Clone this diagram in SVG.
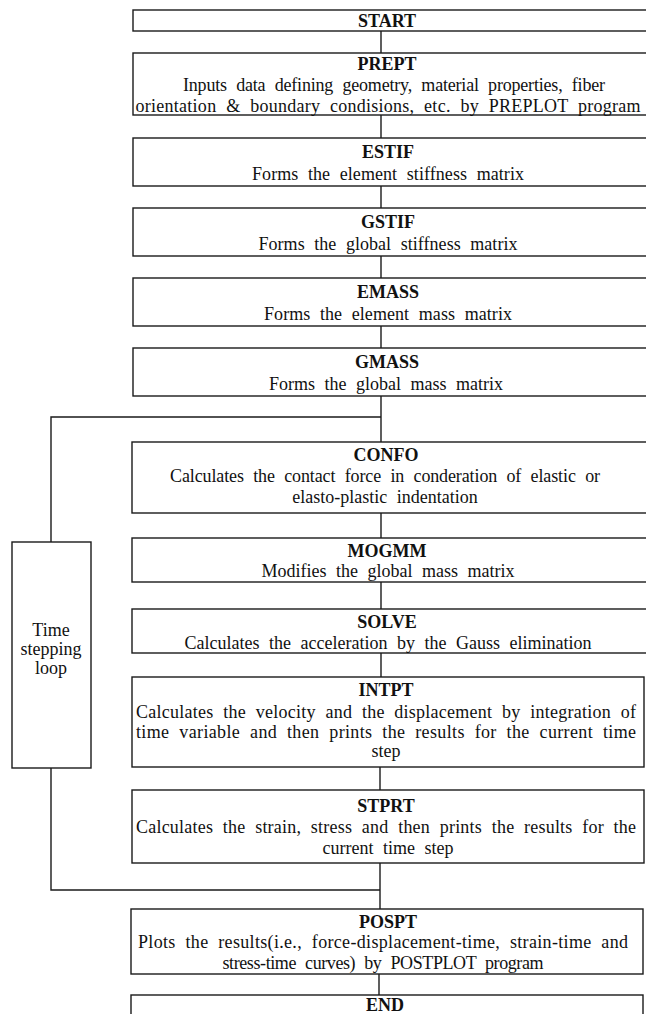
<svg xmlns="http://www.w3.org/2000/svg" width="646" height="1014" viewBox="0 0 646 1014">
<style>
.box{fill:#fff;stroke:#1a1a1a;stroke-width:1.4}
.ln{fill:none;stroke:#1a1a1a;stroke-width:1.4}
.t{font-family:"Liberation Serif","Times New Roman",serif;font-size:18px;font-weight:bold;fill:#111;text-anchor:middle}
.d{font-family:"Liberation Serif","Times New Roman",serif;font-size:18px;fill:#111;text-anchor:middle;word-spacing:5px}
</style>
<rect width="646" height="1014" fill="#fff"/>
<g id="connectors">
<line class="ln" x1="381" y1="31" x2="381" y2="53"/>
<line class="ln" x1="381" y1="115" x2="381" y2="138"/>
<line class="ln" x1="381" y1="186" x2="381" y2="208"/>
<line class="ln" x1="381" y1="256" x2="381" y2="278"/>
<line class="ln" x1="381" y1="326" x2="381" y2="348"/>
<line class="ln" x1="381" y1="396" x2="381" y2="442"/>
<line class="ln" x1="381" y1="513" x2="381" y2="538"/>
<line class="ln" x1="381" y1="582" x2="381" y2="609"/>
<line class="ln" x1="381" y1="653" x2="381" y2="677"/>
<line class="ln" x1="380" y1="767" x2="380" y2="790"/>
<line class="ln" x1="380" y1="863" x2="380" y2="909"/>
<line class="ln" x1="379" y1="974" x2="379" y2="995"/>
<polyline class="ln" points="381,417 51,417 51,542"/>
<polyline class="ln" points="51,768 51,890 380,890"/>
</g>
<g id="start">
<rect class="box" x="133" y="10" width="520" height="21"/>
<text class="t" x="387" y="27">START</text>
</g>
<g id="prept">
<rect class="box" x="133" y="53" width="520" height="62"/>
<text class="t" x="387" y="70">PREPT</text>
<text class="d" x="394" y="91" textLength="422" lengthAdjust="spacing">Inputs data defining geometry, material properties, fiber</text>
<text class="d" x="388" y="112" textLength="505" lengthAdjust="spacing">orientation &amp; boundary condisions, etc. by PREPLOT program</text>
</g>
<g id="estif">
<rect class="box" x="133" y="138" width="520" height="48"/>
<text class="t" x="388" y="158">ESTIF</text>
<text class="d" x="388" y="180" textLength="272" lengthAdjust="spacing">Forms the element stiffness matrix</text>
</g>
<g id="gstif">
<rect class="box" x="133" y="208" width="520" height="48"/>
<text class="t" x="388" y="228">GSTIF</text>
<text class="d" x="388" y="250" textLength="259" lengthAdjust="spacing">Forms the global stiffness matrix</text>
</g>
<g id="emass">
<rect class="box" x="133" y="278" width="520" height="48"/>
<text class="t" x="388" y="298">EMASS</text>
<text class="d" x="388" y="320" textLength="248" lengthAdjust="spacing">Forms the element mass matrix</text>
</g>
<g id="gmass">
<rect class="box" x="133" y="348" width="520" height="48"/>
<text class="t" x="387" y="368">GMASS</text>
<text class="d" x="386" y="390">Forms the global mass matrix</text>
</g>
<g id="confo">
<rect class="box" x="132" y="442" width="520" height="71"/>
<text class="t" x="386" y="461">CONFO</text>
<text class="d" x="385" y="482" textLength="430" lengthAdjust="spacing">Calculates the contact force in conderation of elastic or</text>
<text class="d" x="385" y="503">elasto-plastic indentation</text>
</g>
<g id="mogmm">
<rect class="box" x="132" y="538" width="520" height="44"/>
<text class="t" x="387" y="557">MOGMM</text>
<text class="d" x="388" y="577">Modifies the global mass matrix</text>
</g>
<g id="solve">
<rect class="box" x="132" y="609" width="520" height="44"/>
<text class="t" x="387" y="628">SOLVE</text>
<text class="d" x="388" y="649">Calculates the acceleration by the Gauss elimination</text>
</g>
<g id="intpt">
<rect class="box" x="132" y="677" width="512" height="90"/>
<text class="t" x="386" y="696">INTPT</text>
<text class="d" x="386" y="718" textLength="500" lengthAdjust="spacing">Calculates the velocity and the displacement by integration of</text>
<text class="d" x="386" y="738" textLength="500" lengthAdjust="spacing">time variable and then prints the results for the current time</text>
<text class="d" x="386" y="757">step</text>
</g>
<g id="stprt">
<rect class="box" x="132" y="790" width="512" height="73"/>
<text class="t" x="386" y="812">STPRT</text>
<text class="d" x="386" y="833" textLength="500" lengthAdjust="spacing">Calculates the strain, stress and then prints the results for the</text>
<text class="d" x="388" y="854">current time step</text>
</g>
<g id="time-loop">
<rect class="box" x="12" y="542" width="79" height="226"/>
<text class="d" x="51" y="636">Time</text>
<text class="d" x="51" y="655">stepping</text>
<text class="d" x="51" y="674">loop</text>
</g>
<g id="pospt">
<rect class="box" x="131" y="909" width="512" height="65"/>
<text class="t" x="388" y="928">POSPT</text>
<text class="d" x="383" y="948" textLength="490" lengthAdjust="spacing">Plots the results(i.e., force-displacement-time, strain-time and</text>
<text class="d" x="383" y="969" textLength="321" lengthAdjust="spacing">stress-time curves) by POSTPLOT program</text>
</g>
<g id="end">
<rect class="box" x="131" y="995" width="512" height="30"/>
<text class="t" x="385" y="1011">END</text>
</g>
</svg>
